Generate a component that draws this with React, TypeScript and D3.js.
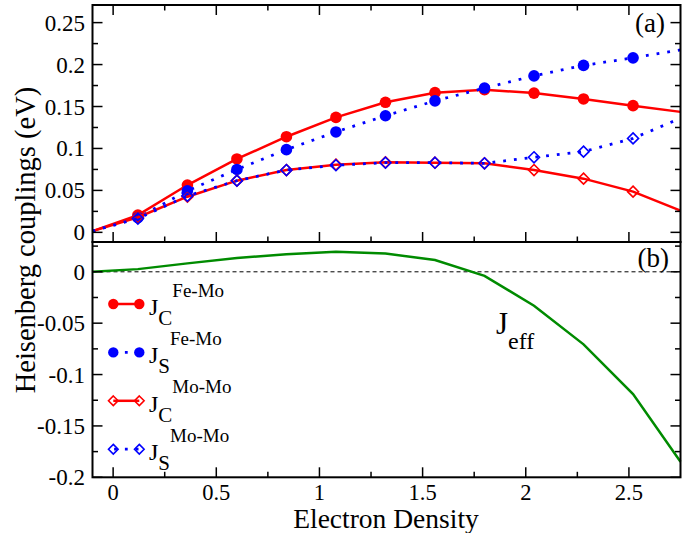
import React from 'react';
import * as d3 from 'd3';

// ---------- data ----------
const densities = [0.12, 0.36, 0.6, 0.84, 1.08, 1.32, 1.56, 1.8, 2.04, 2.28, 2.52];
const lineStartX = -0.1;
const lineEndX = 2.75;

const jcFeMo = [0.0206, 0.0564, 0.0875, 0.114, 0.137, 0.155, 0.1665, 0.17, 0.166, 0.159, 0.151];
const jcFeMoEnds = [0.0015, 0.1436];
const jsFeMo = [0.0175, 0.0495, 0.075, 0.0986, 0.1197, 0.139, 0.1567, 0.172, 0.1865, 0.199, 0.208];
const jsFeMoEnds = [0.0015, 0.2175];
const jcMoMo = [0.018, 0.0425, 0.0616, 0.0743, 0.0807, 0.0835, 0.083, 0.0823, 0.0743, 0.064, 0.0485];
const jcMoMoEnds = [0.0015, 0.0258];
const jsMoMo = [0.0165, 0.0435, 0.0616, 0.0743, 0.08, 0.083, 0.083, 0.0823, 0.0895, 0.0962, 0.112];
const jsMoMoEnds = [0.0015, 0.136];

const jeffX = [-0.1, 0.12, 0.36, 0.6, 0.84, 1.08, 1.32, 1.56, 1.8, 2.04, 2.28, 2.52, 2.75];
const jeffY = [0, 0.0026, 0.0082, 0.0135, 0.017, 0.0195, 0.0178, 0.0114, -0.0039, -0.033, -0.0706, -0.119, -0.1848];

const xTicks = [0, 0.5, 1, 1.5, 2, 2.5];
const xTickLabels = ['0', '0.5', '1', '1.5', '2', '2.5'];
const topTicks = [0, 0.05, 0.1, 0.15, 0.2, 0.25];
const topTickLabels = ['0', '0.05', '0.1', '0.15', '0.2', '0.25'];
const botTicks = [0, -0.05, -0.1, -0.15, -0.2];
const botTickLabels = ['0', '-0.05', '-0.1', '-0.15', '-0.2'];

const legendSubs = ['C', 'S', 'C', 'S'];
const legendSups = ['Fe-Mo', 'Fe-Mo', 'Mo-Mo', 'Mo-Mo'];

// ---------- layout ----------
const W = 695;
const H = 533;
const L = 92.5;
const R = 680.5;
const T1 = 5;
const B1 = 242;
const B2 = 477.3;
const FONT = '"Liberation Serif", "Times New Roman", "Tinos", serif';
const RED = '#ff0000';
const BLUE = '#0000ff';
const GREEN = '#008b00';

const x = d3.scaleLinear().domain([-0.1, 2.75]).range([L, R]);
const yTop = d3.scaleLinear().domain([-0.0115, 0.271]).range([B1, T1]);
const yBot = d3.scaleLinear().domain([-0.2, 0.029]).range([B2, B1]);

type Series = {
  values: number[];
  ends: number[];
  color: string;
  dotted: boolean;
  marker: 'circle' | 'diamond';
};

const series: Series[] = [
  { values: jcFeMo, ends: jcFeMoEnds, color: RED, dotted: false, marker: 'circle' },
  { values: jsFeMo, ends: jsFeMoEnds, color: BLUE, dotted: true, marker: 'circle' },
  { values: jcMoMo, ends: jcMoMoEnds, color: RED, dotted: false, marker: 'diamond' },
  { values: jsMoMo, ends: jsMoMoEnds, color: BLUE, dotted: true, marker: 'diamond' },
];

const Marker = ({ cx, cy, kind, color, r }: { cx: number; cy: number; kind: string; color: string; r: number }) =>
  kind === 'circle' ? (
    <circle cx={cx} cy={cy} r={r} fill={color} />
  ) : (
    <path
      d={`M${cx},${cy - r}L${cx + r},${cy}L${cx},${cy + r}L${cx - r},${cy}Z`}
      fill="none"
      stroke={color}
      strokeWidth={1.6}
    />
  );

const FS = { fontFamily: FONT };

export default function App() {
  const lineTop = d3
    .line<[number, number]>()
    .x((d) => x(d[0]))
    .y((d) => yTop(d[1]));
  const lineBot = d3
    .line<[number, number]>()
    .x((d) => x(d[0]))
    .y((d) => yBot(d[1]));

  const xMinor = d3.range(0, 2.74, 0.25).filter((v) => Math.abs(v * 2 - Math.round(v * 2)) > 1e-6);
  const topMinor = d3.range(0.025, 0.27, 0.05);
  const botMinor = d3.range(-0.175, 0.03, 0.05);

  const MAJ = 10;
  const MIN = 5.5;

  const legendY0 = 304;
  const legendDY = 48.4;

  return (
    <svg
      width={W}
      height={H}
      viewBox={`0 0 ${W} ${H}`}
      style={{ position: 'absolute', left: 0, top: 0, background: '#fff' }}
    >
      {/* ---------- top panel ---------- */}
      {series.map((s, i) => {
        const pts: [number, number][] = [
          [lineStartX, s.ends[0]],
          ...densities.map((d, k) => [d, s.values[k]] as [number, number]),
          [lineEndX, s.ends[1]],
        ];
        return (
          <g key={i}>
            <path
              d={lineTop(pts) || ''}
              fill="none"
              stroke={s.color}
              strokeWidth={s.dotted ? 2.8 : 2.5}
              strokeDasharray={s.dotted ? '2.8 8' : undefined}
            />
            {densities.map((d, k) => (
              <Marker key={k} cx={x(d)} cy={yTop(s.values[k])} kind={s.marker} color={s.color} r={s.marker === 'circle' ? 5.8 : 5.5} />
            ))}
          </g>
        );
      })}

      {/* ---------- bottom panel ---------- */}
      <line x1={L} x2={R} y1={yBot(0)} y2={yBot(0)} stroke="#000" strokeWidth={1} strokeDasharray="4 3" />
      <path
        d={lineBot(jeffX.map((v, k) => [v, jeffY[k]] as [number, number])) || ''}
        fill="none"
        stroke={GREEN}
        strokeWidth={2.5}
      />

      {/* ---------- ticks ---------- */}
      <g stroke="#000" strokeWidth={1.5}>
        {xTicks.map((t) => (
          <g key={'xt' + t}>
            <line x1={x(t)} x2={x(t)} y1={T1} y2={T1 + MAJ} />
            <line x1={x(t)} x2={x(t)} y1={B1} y2={B1 - MAJ} />
            <line x1={x(t)} x2={x(t)} y1={B2} y2={B2 - MAJ} />
          </g>
        ))}
        {xMinor.map((t) => (
          <g key={'xm' + t}>
            <line x1={x(t)} x2={x(t)} y1={T1} y2={T1 + MIN} />
            <line x1={x(t)} x2={x(t)} y1={B1} y2={B1 - MIN} />
            <line x1={x(t)} x2={x(t)} y1={B2} y2={B2 - MIN} />
          </g>
        ))}
        {topTicks.map((t) => (
          <g key={'yt' + t}>
            <line x1={L} x2={L + MAJ} y1={yTop(t)} y2={yTop(t)} />
            <line x1={R} x2={R - MAJ} y1={yTop(t)} y2={yTop(t)} />
          </g>
        ))}
        {topMinor.map((t) => (
          <g key={'ytm' + t}>
            <line x1={L} x2={L + MIN} y1={yTop(t)} y2={yTop(t)} />
            <line x1={R} x2={R - MIN} y1={yTop(t)} y2={yTop(t)} />
          </g>
        ))}
        {botTicks.map((t) => (
          <g key={'yb' + t}>
            <line x1={L} x2={L + MAJ} y1={yBot(t)} y2={yBot(t)} />
            <line x1={R} x2={R - MAJ} y1={yBot(t)} y2={yBot(t)} />
          </g>
        ))}
        {botMinor.map((t) => (
          <g key={'ybm' + t}>
            <line x1={L} x2={L + MIN} y1={yBot(t)} y2={yBot(t)} />
            <line x1={R} x2={R - MIN} y1={yBot(t)} y2={yBot(t)} />
          </g>
        ))}
      </g>

      {/* ---------- frames ---------- */}
      <rect x={L} y={T1} width={R - L} height={B1 - T1} fill="none" stroke="#000" strokeWidth={2} />
      <rect x={L} y={B1} width={R - L} height={B2 - B1} fill="none" stroke="#000" strokeWidth={2} />

      {/* ---------- tick labels ---------- */}
      {topTicks.map((t, k) => (
        <text key={'ytl' + t} x={85} y={yTop(t) + 8} textAnchor="end" fontSize={23} style={FS}>
          {topTickLabels[k]}
        </text>
      ))}
      {botTicks.map((t, k) => (
        <text key={'ybl' + t} x={85} y={yBot(t) + 8} textAnchor="end" fontSize={23} style={FS}>
          {botTickLabels[k]}
        </text>
      ))}
      {xTicks.map((t, k) => (
        <text key={'xtl' + t} x={x(t)} y={499.5} textAnchor="middle" fontSize={22.5} style={FS}>
          {xTickLabels[k]}
        </text>
      ))}

      {/* ---------- axis titles ---------- */}
      <text x={386} y={527.5} textAnchor="middle" fontSize={27.5} style={FS}>
        Electron Density
      </text>
      <text transform="translate(35,240) rotate(-90)" textAnchor="middle" fontSize={28.5} style={FS}>
        Heisenberg couplings (eV)
      </text>

      {/* ---------- panel labels ---------- */}
      <text x={665} y={31.5} textAnchor="end" fontSize={27} style={FS}>(a)</text>
      <text x={669} y={266.5} textAnchor="end" fontSize={27} style={FS}>(b)</text>

      {/* ---------- J_eff label ---------- */}
      <text x={496} y={334} fontSize={31} style={FS}>
        J<tspan dy={15} fontSize={24}>eff</tspan>
      </text>

      {/* ---------- legend ---------- */}
      {series.map((s, i) => {
        const cy = legendY0 + legendDY * i;
        const x1 = 113.3;
        const x2 = 139.3;
        return (
          <g key={'lg' + i}>
            <line
              x1={x1}
              x2={x2}
              y1={cy}
              y2={cy}
              stroke={s.color}
              strokeWidth={s.dotted ? 2.8 : 2.5}
              strokeDasharray={s.dotted ? '2.8 8' : undefined}
              strokeDashoffset={s.dotted ? -11.6 : 0}
            />
            <Marker cx={x1} cy={cy} kind={s.marker} color={s.color} r={s.marker === 'circle' ? 5.2 : 4.8} />
            <Marker cx={x2} cy={cy} kind={s.marker} color={s.color} r={s.marker === 'circle' ? 5.2 : 4.8} />
            <text x={149} y={cy + 11} fontSize={24} style={FS}>
              J<tspan dy={10} fontSize={21}>{legendSubs[i]}</tspan>
              <tspan dy={-28.5} fontSize={19}>{legendSups[i]}</tspan>
            </text>
          </g>
        );
      })}
    </svg>
  );
}
